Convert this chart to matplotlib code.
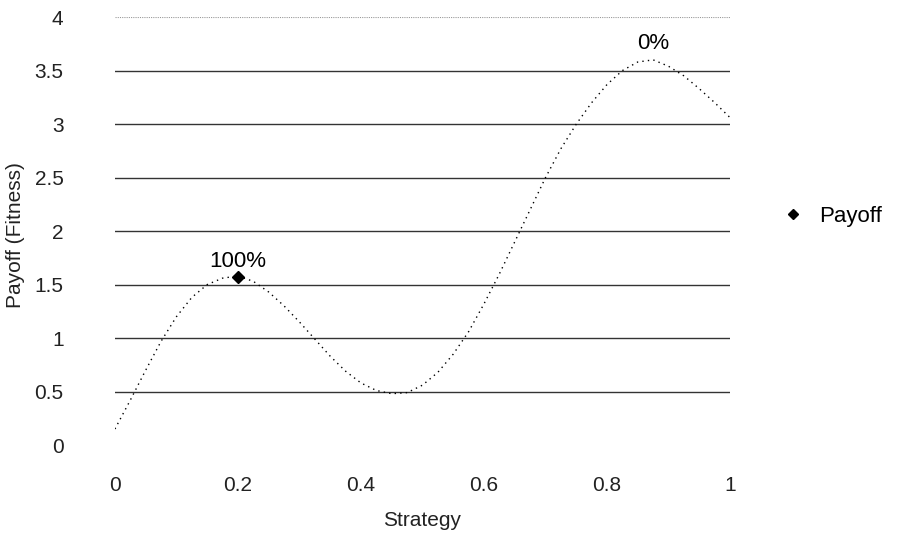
import matplotlib.pyplot as plt

plt.rcParams['font.family'] = ['Liberation Sans', 'DejaVu Sans']

# dotted payoff curve
strategy = [0, 0.025, 0.05, 0.075, 0.1, 0.125, 0.15, 0.175, 0.2, 0.225,
            0.25, 0.275, 0.3, 0.325, 0.35, 0.375, 0.4, 0.425, 0.45, 0.475,
            0.5, 0.525, 0.55, 0.575, 0.6, 0.625, 0.65, 0.675, 0.7, 0.725,
            0.75, 0.775, 0.8, 0.825, 0.85, 0.875, 0.9, 0.925, 0.95, 0.975, 1.0]
payoff = [0.15, 0.42, 0.7, 0.97, 1.2, 1.38, 1.5, 1.56, 1.58, 1.53,
          1.43, 1.3, 1.15, 0.99, 0.83, 0.69, 0.58, 0.51, 0.48, 0.49,
          0.56, 0.68, 0.85, 1.06, 1.32, 1.6, 1.9, 2.2, 2.5, 2.77,
          3.0, 3.2, 3.37, 3.5, 3.58, 3.6, 3.54, 3.45, 3.33, 3.2, 3.06]

# the marked point and the two labels
point_x = [0.2]
point_y = [1.57]
labels = ['100%', '0%']
label_x = [0.2, 0.875]
label_y = [1.57, 3.6]

fig = plt.figure(figsize=(8.98, 5.33), dpi=100)
ax = fig.add_axes([0.128, 0.165, 0.685, 0.803])

ax.plot(strategy, payoff, color='black', linestyle=(0, (1, 3)), linewidth=1.0)
ax.plot(point_x, point_y, linestyle='none', marker='D', markersize=6,
        color='black', label='Payoff')
for t, x, y in zip(labels, label_x, label_y):
    ax.annotate(t, (x, y), xytext=(0, 4), textcoords='offset points',
                ha='center', va='bottom', fontsize=16)

ax.set_xlim(0, 1)
ax.set_ylim(0, 4)
ax.set_yticks([0, 0.5, 1, 1.5, 2, 2.5, 3, 3.5, 4])
ax.set_yticklabels(['0', '0.5', '1', '1.5', '2', '2.5', '3', '3.5', '4'])
ax.set_xticks([0, 0.2, 0.4, 0.6, 0.8, 1])
ax.set_xticklabels(['0', '0.2', '0.4', '0.6', '0.8', '1'])
ax.tick_params(axis='y', length=0, pad=37, labelsize=15, labelcolor='#222222')
ax.tick_params(axis='x', length=0, pad=22, labelsize=15, labelcolor='#222222')

for v in [0.5, 1, 1.5, 2, 2.5, 3, 3.5]:
    ax.axhline(v, color='#333333', linewidth=1.0, zorder=0)
ax.axhline(4, color='#999999', linewidth=0.8, linestyle=(0, (1, 1)), zorder=0)
for s in ax.spines.values():
    s.set_visible(False)

ax.set_xlabel('Strategy', fontsize=15, labelpad=12, color='#222222')
ax.set_ylabel('Payoff (Fitness)', fontsize=15, color='#222222')
ax.yaxis.set_label_coords(-0.147, 0.49)

ax.legend(loc='center left', bbox_to_anchor=(1.055, 0.535), frameon=False,
          fontsize=16, handlelength=0.8, markerscale=0.9)

fig.savefig('out.png', dpi=100)
